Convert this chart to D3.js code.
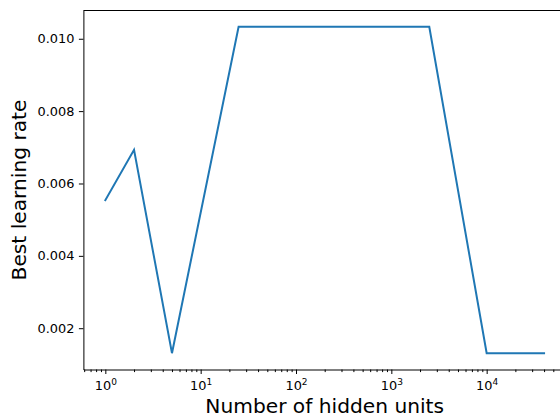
<!DOCTYPE html>
<html>
<head>
<meta charset="utf-8">
<script src="https://cdn.jsdelivr.net/npm/d3@7"></script>
<style>
	body {margin:0;background:#fff;}
	svg {display:block;font-family:"DejaVu Sans", sans-serif;}
	.axis path, .axis line {stroke:#000;stroke-width:1;}
</style>
</head>
<body>
<svg id="chart" width="560" height="420"></svg>
<script>
// hidden units (x) and the best learning rate found for each (y)
var hiddenUnits = [1, 2, 5, 25, 2500, 10000, 40000];
var bestRate = [0.00554, 0.00693, 0.00131, 0.01033, 0.01033, 0.00131, 0.00131];
var yTicks = [0.002, 0.004, 0.006, 0.008, 0.010];
var xMajor = [1, 10, 100, 1000, 10000];

var W = 560, H = 420,
	mLeft = 83.4, mRight = 566, mTop = 10.5, mBottom = 369.5;

var svg = d3.select("#chart");

// matplotlib-ish 5% margins (log space for x)
var lx = d3.extent(hiddenUnits).map(Math.log10),
	lpad = (lx[1] - lx[0]) * 0.05;
var x = d3.scaleLog()
	.domain([Math.pow(10, lx[0] - lpad), Math.pow(10, lx[1] + lpad)])
	.range([mLeft, mRight]);

var ye = d3.extent(bestRate),
	ypad = (ye[1] - ye[0]) * 0.05;
var y = d3.scaleLinear()
	.domain([ye[0] - ypad, ye[1] + ypad])
	.range([mBottom, mTop]);

// minor ticks: 2..9 of each decade inside the domain
var xMinor = [];
for (var e = -1; e <= 5; e++) {
	for (var m = 2; m <= 9; m++) {
		var v = m * Math.pow(10, e);
		if (v >= x.domain()[0] && v <= x.domain()[1]) xMinor.push(v);
	}
}

svg.append("g")
	.attr("class", "axis")
	.attr("transform", "translate(0," + mBottom + ")")
	.call(d3.axisBottom(x).tickValues(xMinor).tickSize(2.6).tickFormat(function() {return "";}))
	.call(function(g) {g.select(".domain").remove();});

var xg = svg.append("g")
	.attr("class", "axis")
	.attr("transform", "translate(0," + mBottom + ")")
	.call(d3.axisBottom(x).tickValues(xMajor).tickSize(4.5).tickSizeOuter(0).tickFormat(function() {return "";}));

xg.selectAll(".tick text")
	.attr("y", 20.5)
	.attr("dy", null)
	.style("font-size", "12.9px")
	.style("font-family", "DejaVu Sans")
	.style("fill", "#000")
	.each(function(d) {
		var t = d3.select(this);
		t.append("tspan").text("10");
		t.append("tspan")
			.attr("dy", -5.5)
			.style("font-size", "9px")
			.text(Math.round(Math.log10(d)));
	});

svg.append("g")
	.attr("class", "axis")
	.attr("transform", "translate(" + mLeft + ",0)")
	.call(d3.axisLeft(y).tickValues(yTicks).tickSize(4.5).tickSizeOuter(0).tickPadding(4.5).tickFormat(d3.format(".3f")))
	.selectAll(".tick text")
		.style("font-size", "12.9px")
		.style("font-family", "DejaVu Sans")
		.style("fill", "#000");

// top and right spines
svg.append("line")
	.attr("x1", mLeft).attr("x2", mRight)
	.attr("y1", mTop).attr("y2", mTop)
	.style("stroke", "#000").style("stroke-width", 1);
svg.append("line")
	.attr("x1", mRight).attr("x2", mRight)
	.attr("y1", mTop).attr("y2", mBottom)
	.style("stroke", "#000").style("stroke-width", 1);

var line = d3.line()
	.x(function(d, i) {return x(hiddenUnits[i]);})
	.y(function(d) {return y(d);});

svg.append("path")
	.datum(bestRate)
	.attr("d", line)
	.style("fill", "none")
	.style("stroke", "#1f77b4")
	.style("stroke-width", 2)
	.style("stroke-linecap", "square");

svg.append("text")
	.attr("x", (mLeft + mRight) / 2)
	.attr("y", 413)
	.style("text-anchor", "middle")
	.style("font-size", "20.2px")
	.text("Number of hidden units");

svg.append("text")
	.attr("transform", "translate(26," + ((mTop + mBottom) / 2) + ") rotate(-90)")
	.style("text-anchor", "middle")
	.style("font-size", "20.2px")
	.text("Best learning rate");
</script>
</body>
</html>
